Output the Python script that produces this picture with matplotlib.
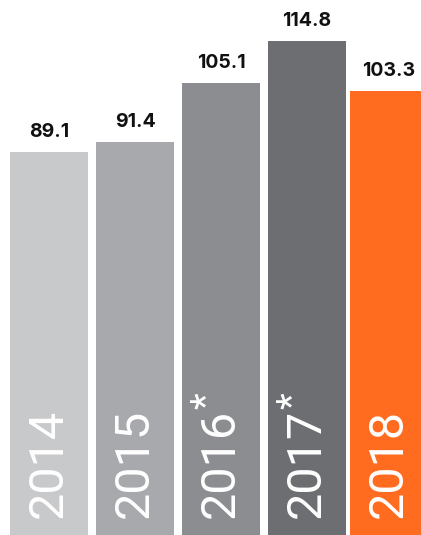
import matplotlib
matplotlib.use("Agg")
import matplotlib.pyplot as plt
import numpy as np

years = ["2014", "2015", "2016", "2017", "2018"]
values = [89.1, 91.4, 105.1, 114.8, 103.3]
value_labels = ["89.1", "91.4", "105.1", "114.8", "103.3"]
footnoted = [False, False, True, True, False]
colors = ["#c8c9cb", "#a8a9ad", "#8c8d90", "#6d6e72", "#ff6b1f"]

fig = plt.figure(figsize=(4.21, 5.35), dpi=100)
ax = fig.add_axes([0, 0, 1, 1])
positions = np.array([0, 1, 2, 3, 3.953])
bars = ax.bar(positions, values, width=0.907, color=colors, linewidth=0)
ax.set_xlim(-0.570, 4.326)
ax.set_ylim(0, 535 / 4.3)
ax.axis("off")

yfam = ["Roboto", "DejaVu Sans"]
for x, v, lab, yr, fn in zip(positions, values, value_labels, years, footnoted):
    ax.annotate(lab, xy=(x, v), xytext=(0, 11), textcoords="offset points",
                ha="center", va="baseline", fontsize=14, fontweight="bold",
                family=["Inter", "DejaVu Sans"], color="#111111")
    t = ax.annotate(yr, xy=(x, 0), xytext=(0, 12), textcoords="offset points",
                    ha="center", va="bottom", rotation=90, fontsize=35,
                    fontweight="normal", family=yfam, color="white")
    if fn:
        ax.annotate("*", xy=(0, 1), xycoords=t, xytext=(-6, 0), textcoords="offset points",
                    ha="left", va="bottom", rotation=90, fontsize=28,
                    fontweight="normal", family=yfam, color="white")

fig.savefig("out.png", dpi=100)
